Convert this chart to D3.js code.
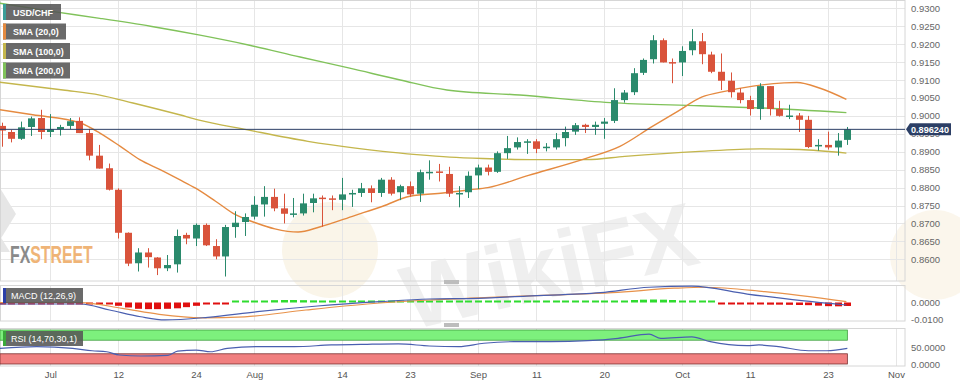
<!DOCTYPE html>
<html><head><meta charset="utf-8">
<script src="https://cdn.jsdelivr.net/npm/d3@7/dist/d3.min.js"></script>
<style>html,body{margin:0;padding:0;background:#fff;}svg{display:block;}</style>
</head><body><svg id="c" width="960" height="384"></svg>
<script>
// ---------------- DATA ----------------
const dates = ["06-26","06-27","06-28","06-29","06-30",
"07-03","07-04","07-05","07-06","07-07","07-10","07-11","07-12","07-13","07-14","07-17","07-18","07-19","07-20","07-21","07-24","07-25","07-26","07-27","07-28","07-31",
"08-01","08-02","08-03","08-04","08-07","08-08","08-09","08-10","08-11","08-14","08-15","08-16","08-17","08-18","08-21","08-22","08-23","08-24","08-25","08-28","08-29","08-30","08-31",
"09-01","09-04","09-05","09-06","09-07","09-08","09-11","09-12","09-13","09-14","09-15","09-18","09-19","09-20","09-21","09-22","09-25","09-26","09-27","09-28","09-29",
"10-02","10-03","10-04","10-05","10-06","10-09","10-10","10-11","10-12","10-13","10-16","10-17","10-18","10-19","10-20","10-23","10-24","10-25"];
const futureDates = ["10-26","10-27","10-30","10-31","11-01","11-02"];
const open  = [0.8972,0.8955,0.8936,0.8969,0.8994,0.8955,0.8963,0.8972,0.8986,0.8952,0.8889,0.8854,0.8794,0.8674,0.8589,0.8619,0.8605,0.8575,0.8586,0.8668,0.8658,0.8696,0.8637,0.8608,0.8690,0.8704,
0.8719,0.8753,0.8774,0.8742,0.8726,0.8728,0.8757,0.8772,0.8770,0.8766,0.8783,0.8785,0.8798,0.8785,0.8822,0.8787,0.8804,0.8783,0.8843,0.8845,0.8838,0.8783,0.8787,
0.8834,0.8856,0.8844,0.8896,0.8912,0.8927,0.8929,0.8910,0.8912,0.8938,0.8956,0.8975,0.8969,0.8978,0.8986,0.9044,0.9066,0.9120,0.9158,0.9211,0.9150,
0.9149,0.9183,0.9208,0.9171,0.9123,0.9098,0.9065,0.9044,0.9019,0.9083,0.9019,0.8998,0.9001,0.8989,0.8915,0.8919,0.8912,0.8933];
const high  = [0.8981,0.8961,0.8984,0.8998,0.9017,0.9005,0.8975,0.8994,0.8996,0.8964,0.8919,0.8867,0.8798,0.8675,0.8631,0.8631,0.8606,0.8612,0.8683,0.8674,0.8700,0.8700,0.8656,0.8696,0.8734,0.8728,
0.8776,0.8804,0.8797,0.8783,0.8771,0.8783,0.8783,0.8778,0.8778,0.8827,0.8794,0.8813,0.8806,0.8827,0.8829,0.8808,0.8817,0.8850,0.8876,0.8866,0.8858,0.8804,0.8845,
0.8864,0.8864,0.8901,0.8944,0.8940,0.8935,0.8935,0.8924,0.8952,0.8970,0.8980,0.8978,0.8984,0.8994,0.9077,0.9072,0.9133,0.9160,0.9225,0.9216,0.9160,
0.9194,0.9242,0.9231,0.9179,0.9174,0.9121,0.9077,0.9056,0.9091,0.9083,0.9042,0.9031,0.9008,0.9000,0.8935,0.8956,0.8952,0.8969];
const low   = [0.8914,0.8926,0.8933,0.8944,0.8935,0.8941,0.8945,0.8963,0.8952,0.8876,0.8853,0.8792,0.8658,0.8581,0.8566,0.8577,0.8556,0.8567,0.8563,0.8642,0.8637,0.8637,0.8600,0.8552,0.8660,0.8665,
0.8711,0.8719,0.8734,0.8700,0.8717,0.8722,0.8731,0.8691,0.8737,0.8737,0.8746,0.8774,0.8759,0.8774,0.8778,0.8765,0.8774,0.8760,0.8822,0.8817,0.8774,0.8745,0.8771,
0.8796,0.8834,0.8841,0.8880,0.8906,0.8894,0.8896,0.8901,0.8906,0.8915,0.8947,0.8952,0.8947,0.8936,0.8980,0.9037,0.9058,0.9114,0.9146,0.9149,0.9091,
0.9111,0.9169,0.9144,0.9119,0.9072,0.9051,0.9035,0.9001,0.8989,0.9001,0.8998,0.8991,0.8955,0.8910,0.8903,0.8906,0.8889,0.8919];
const close = [0.8959,0.8936,0.8968,0.8993,0.8955,0.8963,0.8969,0.8985,0.8952,0.8889,0.8853,0.8794,0.8674,0.8588,0.8619,0.8606,0.8575,0.8584,0.8665,0.8658,0.8696,0.8639,0.8608,0.8690,0.8702,0.8718,
0.8752,0.8774,0.8742,0.8727,0.8728,0.8756,0.8770,0.8769,0.8768,0.8781,0.8785,0.8798,0.8785,0.8822,0.8783,0.8804,0.8781,0.8843,0.8844,0.8841,0.8783,0.8785,0.8833,
0.8856,0.8844,0.8896,0.8910,0.8927,0.8929,0.8908,0.8914,0.8935,0.8955,0.8974,0.8969,0.8975,0.8984,0.9044,0.9065,0.9119,0.9156,0.9211,0.9149,0.9148,
0.9181,0.9208,0.9172,0.9123,0.9098,0.9066,0.9044,0.9019,0.9083,0.9019,0.9000,0.9001,0.8989,0.8913,0.8919,0.8912,0.8931,0.89624];
const lastPrice = 0.896240;

// moving averages: [candle index, value]
const sma20  = [[-0.2,0.9017],[3.2,0.9003],[8.1,0.8980],[10.1,0.8952],[12.2,0.8915],[14.2,0.8878],[16.3,0.8850],[18.3,0.8822],[19.9,0.8799],[22,0.8762],[24,0.8725],[26.1,0.8702],[28.1,0.8685],[30.5,0.8676],[32.7,0.8690],[36.3,0.8722],[39.2,0.8748],[42,0.8776],[45.4,0.8785],[48.2,0.8794],[50,0.8800],[54.2,0.8834],[60.2,0.8882],[63.6,0.8915],[66.9,0.8970],[69.5,0.9012],[72,0.9052],[74.5,0.9069],[77.3,0.9083],[80.5,0.9092],[81.8,0.9093],[84.2,0.9077],[86.9,0.9046]];
const sma100 = [[-0.2,0.9094],[6.3,0.9072],[10.1,0.9058],[13.5,0.9036],[18.3,0.9003],[20.2,0.8989],[25.3,0.8961],[31.5,0.8929],[36.4,0.8910],[39.2,0.8901],[42.7,0.8892],[46.1,0.8885],[49.5,0.8881],[54.4,0.8878],[60.2,0.8878],[64.1,0.8887],[71.8,0.8901],[78,0.8908],[82.1,0.8906],[86.9,0.8896]];
const sma200 = [[-0.2,0.9314],[5,0.9292],[10.1,0.9272],[15.3,0.9250],[20.4,0.9225],[25.5,0.9197],[30.7,0.9164],[35.8,0.9133],[41,0.9100],[45.8,0.9072],[53.3,0.9058],[62.6,0.9037],[71.8,0.9028],[78,0.9022],[86.9,0.9009]];

const macdHist = [-0.0002,-0.0002,-0.0002,-0.0002,-0.0002,-0.0003,-0.0003,-0.0003,-0.0003,-0.0004,
-0.0006,-0.0012,-0.0020,-0.0030,-0.0038,-0.0040,-0.0040,-0.0038,-0.0035,-0.0028,
-0.0020,-0.0012,-0.0008,-0.0004,0.0002,0.0004,0.0008,0.0012,0.0014,0.0015,
0.0015,0.0014,0.0013,0.0012,0.0011,0.0010,0.0010,0.0009,0.0008,0.0008,
0.0008,0.0007,0.0007,0.0007,0.0006,0.0006,0.0006,0.0006,0.0006,0.0006,
0.0005,0.0005,0.0006,0.0006,0.0006,0.0005,0.0005,0.0005,0.0005,0.0006,
0.0006,0.0006,0.0006,0.0009,0.0012,0.0015,0.0017,0.0018,0.0017,0.0015,
0.0011,0.0007,0.0004,0.0002,-0.0003,-0.0007,-0.0010,-0.0012,-0.0012,-0.0013,
-0.0013,-0.0014,-0.0015,-0.0016,-0.0019,-0.0022,-0.0023,-0.0021];
const macdLine = [[-0.2,-0.0009],[8.1,-0.0009],[11.1,-0.0045],[14.3,-0.0086],[16.8,-0.0105],[21.2,-0.0089],[26.3,-0.0055],[32.5,-0.0021],[38.9,0.0005],[44,0.0021],[49,0.0025],[54,0.0039],[61.6,0.0059],[66.6,0.0092],[71,0.0099],[76.7,0.0051],[82.3,0.0011],[86.9,-0.0015]];
const macdSignal = [[-0.2,-0.0001],[8.1,-0.0001],[12.4,-0.0035],[16.2,-0.0071],[20.6,-0.0092],[25,-0.0086],[31.3,-0.0045],[37.6,-0.0009],[44,0.0015],[50.2,0.0031],[56.5,0.0045],[62.8,0.0059],[69.2,0.0086],[72.3,0.0092],[78.5,0.0065],[86.9,0.0005]];
const rsi = [[-0.2,46],[3.6,51],[7.3,46],[9.3,39],[10.8,36],[12.1,26.5],[14.3,23.5],[17.1,25.6],[18.1,38],[20,41],[21.5,36],[23.2,46],[26.3,51],[30.1,51],[33.9,56],[37.6,58],[40.8,59],[44,53],[47,51],[49.6,61],[52.7,65.6],[56.5,65.6],[60.3,68.5],[63.4,75.6],[66.6,88],[67.8,75.6],[71,80],[72.9,65.6],[76.7,54],[77.9,56],[79.9,51],[83,39],[84.9,39],[87,46]];

const priceTicks = [0.86,0.865,0.87,0.875,0.88,0.885,0.89,0.895,0.90,0.905,0.91,0.915,0.92,0.925,0.93];
const dateTicks = ["07-03","07-12","07-24","08-01","08-14","08-23","09-01","09-11","09-20","10-02","10-11","10-23","11-01"];
const dateTickLabels = ["Jul","12","24","Aug","14","23","Sep","11","20","Oct","11","23","Nov"];
const legendItems = ["USD/CHF","SMA (20,0)","SMA (100,0)","SMA (200,0)"];

// ---------------- DRAWING ----------------
const FONT = "Arial, 'Liberation Sans', Helvetica, sans-serif";
const svg = d3.select("#c");
const W = 905;
const allDates = dates.concat(futureDates);
const idx = d => allDates.indexOf(d);
const x = d3.scaleLinear().domain([-0.175, 92.93]).range([0, W]);
const y = d3.scaleLinear().domain([0.85395, 0.93231]).range([281, 0]);
const yM = d3.scaleLinear().domain([-0.01114, 0.01054]).range([321, 285]);
const yR = d3.scaleLinear().domain([-5.9, 105.9]).range([366, 328]);

const GREEN = "#2a8a6c", RED = "#d9533b";
const C20 = "#e58a40", C100 = "#c4b64c", C200 = "#80c25a";
const gridC = "#e6e6e6";

const defs = svg.append("defs");
defs.append("clipPath").attr("id","clipMain").append("rect").attr("x",0).attr("y",0).attr("width",W).attr("height",281);

// watermarks
const wm = svg.append("g");
wm.append("circle").attr("cx",330).attr("cy",250).attr("r",48).attr("fill","#f3e6c9").attr("opacity",0.4);
wm.append("circle").attr("cx",935).attr("cy",255).attr("r",45).attr("fill","#f3e6c9").attr("opacity",0.35);
wm.append("text").attr("x",395).attr("y",285).attr("transform","rotate(-13,600,240)")
  .attr("font-family",FONT).attr("font-weight","bold").attr("font-size",90)
  .attr("fill","#d0d0d0").attr("opacity",0.33).text("WikiFX");
wm.append("path").attr("d","M0,188 L16,214 L0,240 Z M0,236 L10,252 L0,252 Z").attr("fill","#dcdcdc").attr("opacity",0.7);

// main grid
const gMain = svg.append("g");
gMain.selectAll(".hg").data(priceTicks).join("line")
  .attr("x1",0).attr("x2",W).attr("y1",d=>Math.round(y(d))+0.5).attr("y2",d=>Math.round(y(d))+0.5)
  .attr("stroke",gridC);
[[0,281],[285,321],[328,366]].forEach(([a,b])=>{
  svg.append("g").selectAll("line").data(dateTicks).join("line")
    .attr("x1",d=>Math.round(x(idx(d)))+0.5).attr("x2",d=>Math.round(x(idx(d)))+0.5)
    .attr("y1",a).attr("y2",b).attr("stroke",gridC);
});

// FXSTREET logo (single condensed text)
const fx = svg.append("text").attr("transform","translate(10,263) scale(0.66,1)")
  .attr("font-family",FONT).attr("font-weight","bold").attr("font-size",24);
fx.append("tspan").attr("fill","#8a8a8a").text("FX");
fx.append("tspan").attr("fill","#efb477").text("STREET");

// frames
svg.append("rect").attr("x",0.5).attr("y",0.5).attr("width",W-0.5).attr("height",280.5).attr("fill","none").attr("stroke","#d6d6d6");
svg.append("rect").attr("x",0.5).attr("y",285.5).attr("width",W-0.5).attr("height",35.5).attr("fill","none").attr("stroke","#d6d6d6");
svg.append("rect").attr("x",0.5).attr("y",328.5).attr("width",W-0.5).attr("height",37.5).attr("fill","none").attr("stroke","#d6d6d6");
svg.append("rect").attr("x",444).attr("y",280).attr("width",15).attr("height",4).attr("fill","#bdbdbd");
svg.append("rect").attr("x",444).attr("y",323).attr("width",15).attr("height",4).attr("fill","#bdbdbd");

// price axis
const yAxis = d3.axisRight(y).tickValues(priceTicks).tickFormat(d3.format(".4f")).tickSize(0).tickPadding(6);
const ga = svg.append("g").attr("transform",`translate(${W},0)`).call(yAxis);
ga.select(".domain").remove();
ga.selectAll("text").attr("font-family",FONT).attr("font-size",9.5).attr("fill","#666");

// main plot content
const plot = svg.append("g").attr("clip-path","url(#clipMain)");
const lineGen = (ys) => d3.line().x(d=>x(d[0])).y(d=>ys(d[1])).curve(d3.curveMonotoneX);
plot.append("path").datum(sma200).attr("d",lineGen(y)).attr("fill","none").attr("stroke",C200).attr("stroke-width",1.4);
plot.append("path").datum(sma100).attr("d",lineGen(y)).attr("fill","none").attr("stroke",C100).attr("stroke-width",1.4);
plot.append("path").datum(sma20).attr("d",lineGen(y)).attr("fill","none").attr("stroke",C20).attr("stroke-width",1.4);

const candles = dates.map((d,i)=>({i,o:open[i],h:high[i],l:low[i],c:close[i]}));
const cg = plot.selectAll(".cd").data(candles).join("g");
cg.append("line").attr("x1",d=>Math.round(x(d.i))+0.5).attr("x2",d=>Math.round(x(d.i))+0.5)
  .attr("y1",d=>y(d.h)).attr("y2",d=>y(d.l)).attr("stroke",d=>d.c>=d.o?GREEN:RED).attr("stroke-width",1);
cg.append("rect").attr("x",d=>Math.round(x(d.i))-3).attr("width",7)
  .attr("y",d=>y(Math.max(d.o,d.c))).attr("height",d=>Math.max(1.5,Math.abs(y(d.o)-y(d.c))))
  .attr("fill",d=>d.c>=d.o?GREEN:RED);

// last price line
const NAVY = "#2c3f66";
plot.append("line").attr("x1",0).attr("x2",W).attr("y1",y(lastPrice)).attr("y2",y(lastPrice)).attr("stroke",NAVY).attr("stroke-width",1);
const py = y(lastPrice);
svg.append("path").attr("d",`M${W+1},${py} L${W+5},${py-6} L${W+46},${py-6} L${W+46},${py+6} L${W+5},${py+6} Z`).attr("fill",NAVY);
svg.append("text").attr("x",W+6).attr("y",py+3.5).attr("font-family",FONT).attr("font-weight","bold").attr("font-size",9)
  .attr("textLength",38).attr("lengthAdjust","spacingAndGlyphs")
  .attr("fill","#fff").text(d3.format(".6f")(lastPrice));

// legend
const stripeC = ["#3a9e98",C20,C100,C200];
const boxW = [58,63,67,67];
legendItems.forEach((t,k)=>{
  const gy = 4 + k*19.5;
  const g = svg.append("g").attr("transform",`translate(3,${gy})`);
  g.append("rect").attr("width",boxW[k]).attr("height",16).attr("fill","#555").attr("opacity",0.88);
  g.append("rect").attr("width",3).attr("height",16).attr("fill",stripeC[k]);
  g.append("text").attr("x",10).attr("y",11.5).attr("font-family",FONT).attr("font-weight","bold").attr("font-size",9)
    .attr("fill","#fff").text(t);
});

// MACD panel
const gm = svg.append("g");
gm.selectAll("rect").data(macdHist).join("rect")
  .attr("x",(d,i)=>Math.round(x(i))-3).attr("width",7)
  .attr("y",d=> d>=0 ? Math.min(yM(d), yM(0)-2) : yM(0))
  .attr("height",d=> Math.max(2, Math.abs(yM(d)-yM(0))))
  .attr("fill",d=> d>=0 ? "#2fdc2f" : "#e01010");
gm.append("path").datum(macdSignal).attr("d",lineGen(yM)).attr("fill","none").attr("stroke","#e8924a").attr("stroke-width",1.2);
gm.append("path").datum(macdLine).attr("d",lineGen(yM)).attr("fill","none").attr("stroke","#4a5fb0").attr("stroke-width",1.2);
const mAxis = d3.axisRight(yM).tickValues([0,-0.01]).tickFormat(d3.format(".4f")).tickSize(0).tickPadding(6);
const gma = svg.append("g").attr("transform",`translate(${W},0)`).call(mAxis);
gma.select(".domain").remove();
gma.selectAll("text").attr("font-family",FONT).attr("font-size",9.5).attr("fill","#666").text(d=>d===0?"0.0000":"-0.0100");
const mg = svg.append("g").attr("transform","translate(3,288)");
mg.append("rect").attr("width",80).attr("height",15).attr("fill","#555").attr("opacity",0.88);
mg.append("rect").attr("width",3).attr("height",15).attr("fill","#2b3fa8");
mg.append("text").attr("x",8).attr("y",11).attr("font-family",FONT).attr("font-size",9).attr("fill","#fff").text("MACD (12,26,9)");

// RSI panel
const gr = svg.append("g");
const xEnd = x(dates.length-1);
gr.append("rect").attr("x",0).attr("width",xEnd).attr("y",yR(100)).attr("height",yR(70)-yR(100))
  .attr("fill","#7df07d").attr("stroke","#3f9d3f").attr("stroke-width",0.8);
gr.append("rect").attr("x",0).attr("width",xEnd).attr("y",yR(30)).attr("height",yR(0)-yR(30))
  .attr("fill","#f07f7f").attr("stroke","#7a3030").attr("stroke-width",0.8);
gr.append("path").datum(rsi).attr("d",lineGen(yR)).attr("fill","none").attr("stroke","#4a5fb0").attr("stroke-width",1.2);
const rAxis = d3.axisRight(yR).tickValues([50,0]).tickFormat(d3.format(".4f")).tickSize(0).tickPadding(6);
const gra = svg.append("g").attr("transform",`translate(${W},0)`).call(rAxis);
gra.select(".domain").remove();
gra.selectAll("text").attr("font-family",FONT).attr("font-size",9.5).attr("fill","#666");
const rg = svg.append("g").attr("transform","translate(3,331)");
rg.append("rect").attr("width",80).attr("height",15).attr("fill","#555").attr("opacity",0.88);
rg.append("rect").attr("width",3).attr("height",15).attr("fill","#3aa83a");
rg.append("text").attr("x",8).attr("y",11).attr("font-family",FONT).attr("font-size",9).attr("fill","#fff").text("RSI (14,70,30,1)");

// date axis
const xAxis = d3.axisBottom(x).tickValues(dateTicks.map(idx)).tickFormat((d,k)=>dateTickLabels[k]).tickSize(0).tickPadding(5);
const gx = svg.append("g").attr("transform","translate(0,366)").call(xAxis);
gx.select(".domain").remove();
gx.selectAll("text").attr("font-family",FONT).attr("font-size",9.5).attr("fill","#555");
</script></body></html>
